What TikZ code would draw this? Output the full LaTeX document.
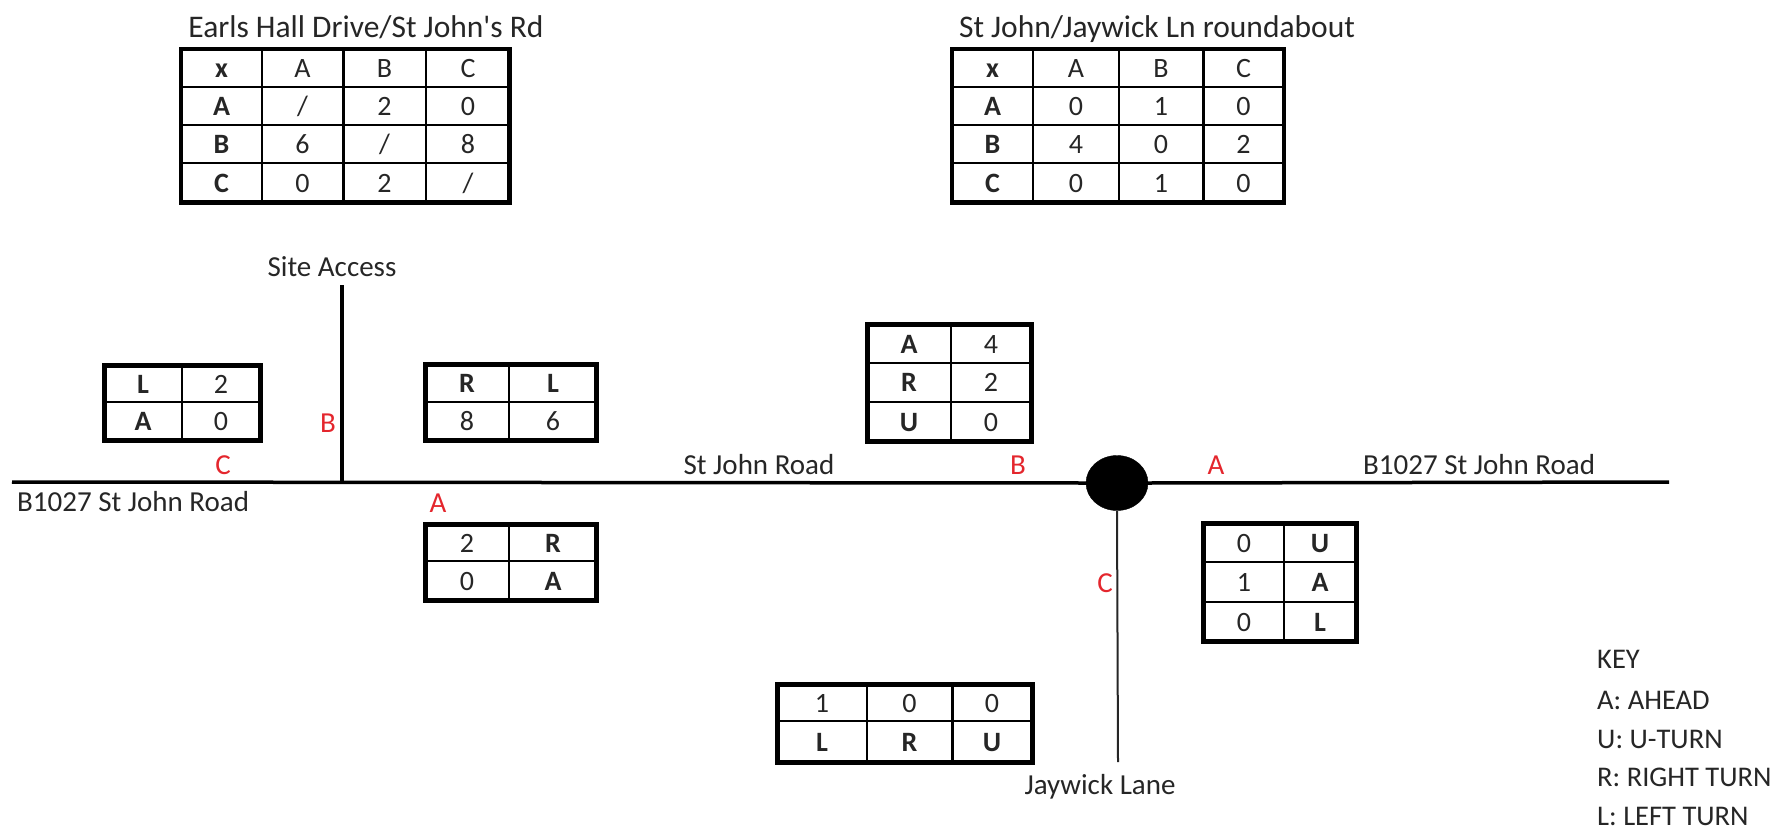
\documentclass[tikz,border=0pt]{standalone}
\usepackage{fontspec}
\setmainfont{Carlito}
\usetikzlibrary{shapes.geometric}
\definecolor{lblred}{RGB}{228,38,45}
\definecolor{ink}{RGB}{38,38,38}
\tikzset{
  txt/.style={inner sep=0pt, text=ink, font=\fontsize{29}{34}\selectfont, text height=19pt, text depth=0pt},
  keytxt/.style={inner sep=0pt, text=ink, font=\fontsize{28.5}{34}\selectfont, text height=19pt, text depth=0pt, anchor=west},
  ttl/.style={inner sep=0pt, text=ink, font=\fontsize{31.5}{36}\selectfont, text height=20pt, text depth=0pt},
  cell/.style={inner sep=0pt, text=ink, font=\fontsize{28}{32}\selectfont, text height=18pt, text depth=0pt},
  bcell/.style={cell, font=\fontsize{28}{32}\selectfont\bfseries},
  red/.style={inner sep=0pt, text=lblred, font=\fontsize{29}{34}\selectfont, text height=19pt, text depth=0pt},
  frame/.style={draw=black, line width=4.5pt},
  thin/.style={draw=black, line width=1.5pt},
  mid/.style={draw=black, line width=3pt},
  road/.style={draw=black, line width=3.5pt},
  lane/.style={draw=black!85, line width=2pt},
}
\begin{document}
\begin{tikzpicture}[x=1pt,y=-1pt]
\useasboundingbox (0,0) rectangle (1782,835);

% ---------- Table 1 ----------
\node[ttl] (t1title) at (366,27) {Earls Hall Drive/St John\textquotesingle s Rd};
\draw[thin] (262,49) -- (262,202.5) (426,49) -- (426,202.5);
\draw[mid] (343,49) -- (343,202.5);
\draw[thin] (181,87) -- (509.5,87) (181,125) -- (509.5,125) (181,163) -- (509.5,163);
\draw[frame] (181,49) rectangle (509.5,202.5);
\node[bcell] (t1x) at (221.5,68) {x};
\node[cell] (t1hA) at (302.5,68) {A};
\node[cell] (t1hB) at (384.5,68) {B};
\node[cell] (t1hC) at (468,68) {C};
\node[bcell] (t1rA) at (221.5,106) {A};
\node[cell] (t1AA) at (302.5,106) {/};
\node[cell] (t1AB) at (384.5,106) {2};
\node[cell] (t1AC) at (468,106) {0};
\node[bcell] (t1rB) at (221.5,144) {B};
\node[cell] (t1BA) at (302.5,144) {6};
\node[cell] (t1BB) at (384.5,144) {/};
\node[cell] (t1BC) at (468,144) {8};
\node[bcell] (t1rC) at (221.5,183) {C};
\node[cell] (t1CA) at (302.5,183) {0};
\node[cell] (t1CB) at (384.5,183) {2};
\node[cell] (t1CC) at (468,183) {/};

% ---------- Table 2 ----------
\node[ttl] (t2title) at (1157,27) {St John/Jaywick Ln roundabout};
\draw[thin] (1033,49) -- (1033,202.5) (1119,49) -- (1119,202.5);
\draw[mid] (1203,49) -- (1203,202.5);
\draw[thin] (952,87) -- (1284,87) (952,125) -- (1284,125) (952,163) -- (1284,163);
\draw[frame] (952,49) rectangle (1284,202.5);
\node[bcell] (t2x) at (992.5,68) {x};
\node[cell] (t2hA) at (1076,68) {A};
\node[cell] (t2hB) at (1161,68) {B};
\node[cell] (t2hC) at (1243.5,68) {C};
\node[bcell] (t2rA) at (992.5,106) {A};
\node[cell] (t2AA) at (1076,106) {0};
\node[cell] (t2AB) at (1161,106) {1};
\node[cell] (t2AC) at (1243.5,106) {0};
\node[bcell] (t2rB) at (992.5,144) {B};
\node[cell] (t2BA) at (1076,144) {4};
\node[cell] (t2BB) at (1161,144) {0};
\node[cell] (t2BC) at (1243.5,144) {2};
\node[bcell] (t2rC) at (992.5,183) {C};
\node[cell] (t2CA) at (1076,183) {0};
\node[cell] (t2CB) at (1161,183) {1};
\node[cell] (t2CC) at (1243.5,183) {0};

% ---------- Roads ----------
\coordinate (wend) at (12,482);
\coordinate (junc) at (342,482);
\coordinate (satop) at (342,285);
\coordinate (eend) at (1669,482);
\coordinate (jlend) at (1118,762);
\node[ellipse, fill=black, draw=black, minimum width=62pt, minimum height=55pt, inner sep=0pt] (rb) at (1117,483) {};
\draw[road] (wend) -- (rb.west);
\draw[road] (rb.east) -- (eend);
\draw[road] (satop) -- (junc);
\draw[lane] (rb.south) -- (jlend);

\node[txt] (siteacc) at (332,267) {Site Access};
\node[txt, anchor=west] (b1027w) at (17,502) {B1027 St John Road};
\node[txt] (stjohn) at (759,465) {St John Road};
\node[txt, anchor=west] (b1027e) at (1363,465) {B1027 St John Road};
\node[txt] (jaywick) at (1100,785) {Jaywick Lane};

% red arm labels
\node[red] (lB1) at (328,423) {B};
\node[red] (lC1) at (223,465) {C};
\node[red] (lA1) at (438,503) {A};
\node[red] (lB2) at (1018,465) {B};
\node[red] (lA2) at (1216,465) {A};
\node[red] (lC2) at (1105,583) {C};

% ---------- Box L2 / A0 ----------
\draw[thin] (182,365.5) -- (182,440.5) (104.5,402) -- (260.5,402);
\draw[frame] (104.5,365.5) rectangle (260.5,440.5);
\node[bcell] (b1a) at (143,384) {L};
\node[cell] (b1b) at (221,384) {2};
\node[bcell] (b1c) at (143,421) {A};
\node[cell] (b1d) at (221,421) {0};

% ---------- Box R L / 8 6 ----------
\draw[thin] (509,364.5) -- (509,440.5) (425.5,402) -- (596.5,402);
\draw[frame] (425.5,364.5) rectangle (596.5,440.5);
\node[bcell] (b2a) at (467,383) {R};
\node[bcell] (b2b) at (553,383) {L};
\node[cell] (b2c) at (467,421) {8};
\node[cell] (b2d) at (553,421) {6};

% ---------- Box 2 R / 0 A ----------
\draw[thin] (509,524.5) -- (509,600.5) (425.5,561) -- (596.5,561);
\draw[frame] (425.5,524.5) rectangle (596.5,600.5);
\node[cell] (b3a) at (467,543) {2};
\node[bcell] (b3b) at (553,543) {R};
\node[cell] (b3c) at (467,581) {0};
\node[bcell] (b3d) at (553,581) {A};

% ---------- Box A4 / R2 / U0 ----------
\draw[thin] (951,324.5) -- (951,441.5) (867.5,363) -- (1031.5,363) (867.5,402) -- (1031.5,402);
\draw[frame] (867.5,324.5) rectangle (1031.5,441.5);
\node[bcell] (b4a) at (909,344) {A};
\node[cell] (b4b) at (991,344) {4};
\node[bcell] (b4c) at (909,382.5) {R};
\node[cell] (b4d) at (991,382.5) {2};
\node[bcell] (b4e) at (909,422) {U};
\node[cell] (b4f) at (991,422) {0};

% ---------- Box 0U / 1A / 0L ----------
\draw[thin] (1284,523.5) -- (1284,641.5) (1203.5,562) -- (1356.5,562) (1203.5,602) -- (1356.5,602);
\draw[frame] (1203.5,523.5) rectangle (1356.5,641.5);
\node[cell] (b5a) at (1244,543) {0};
\node[bcell] (b5b) at (1320,543) {U};
\node[cell] (b5c) at (1244,582) {1};
\node[bcell] (b5d) at (1320,582) {A};
\node[cell] (b5e) at (1244,622) {0};
\node[bcell] (b5f) at (1320,622) {L};

% ---------- Box 1 0 0 / L R U ----------
\draw[thin] (867,684.5) -- (867,762.5) (777.5,721) -- (1032.5,721);
\draw[mid] (952,684.5) -- (952,762.5);
\draw[frame] (777.5,684.5) rectangle (1032.5,762.5);
\node[cell] (b6a) at (822,703) {1};
\node[cell] (b6b) at (909.5,703) {0};
\node[cell] (b6c) at (992,703) {0};
\node[bcell] (b6d) at (822,742) {L};
\node[bcell] (b6e) at (909.5,742) {R};
\node[bcell] (b6f) at (992,742) {U};

% ---------- Key ----------
\node[keytxt] (key0) at (1597,659) {KEY};
\node[keytxt] (key1) at (1597,700) {A: AHEAD};
\node[keytxt] (key2) at (1597,739) {U: U-TURN};
\node[keytxt] (key3) at (1597,777) {R: RIGHT TURN};
\node[keytxt] (key4) at (1597,816) {L: LEFT TURN};
\end{tikzpicture}
\end{document}
